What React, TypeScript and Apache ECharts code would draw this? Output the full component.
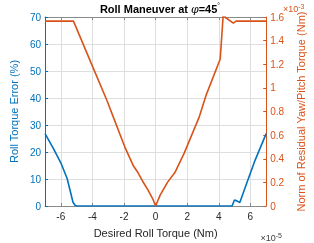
import React, { useEffect, useRef } from "react";
import * as echarts from "echarts";

const xTicks = [-6, -4, -2, 0, 2, 4, 6];
const blueX = [-7, -6.5, -6, -5.6, -5.23, -5.1, -5.0, 4.84, 4.99, 5.14, 5.33, 5.8, 6.3, 7];
const blueY = [26.8, 21.6, 16, 10.2, 1.4, 0.3, 0, 0, 2.2, 1.9, 1.3, 9.0, 17, 26.8];
const orangeX = [-7, -5.2, -4.02, -3.08, -2.67, -1.96, -1.4, -1.12, -0.84, -0.47, -0.19, 0, 0.28, 0.75, 1.22, 1.81, 2.75, 3.21, 4.09, 4.33, 4.4, 4.92, 5.1, 7];
const orangeY = [1.565, 1.565, 1.19, 0.893, 0.75, 0.503, 0.338, 0.283, 0.214, 0.132, 0.063, 0, 0.09, 0.2, 0.283, 0.448, 0.75, 0.943, 1.245, 1.72, 1.598, 1.548, 1.565, 1.565];

const BLUE = "#0072BD";
const ORANGE = "#D95319";
const AXIS = "#8a8a8a";
const GRID = "#dedede";
const FONT = "Liberation Sans";

export default function App() {
  const ref = useRef<HTMLDivElement>(null);
  useEffect(() => {
    if (!ref.current) return;
    const chart = echarts.init(ref.current, undefined, { renderer: "svg" });
    chart.setOption({
      animation: false,
      textStyle: { fontFamily: FONT },
      grid: { left: 30, right: 32, top: 17, bottom: 32, containLabel: false },
      graphic: [
        {
          type: "text",
          x: 160,
          y: 9,
          style: {
            text: "{b|Roll Maneuver at }{p|φ}{b|=45}{s|°}",
            align: "center",
            verticalAlign: "middle",
            rich: {
              b: { fontWeight: "bold", fontSize: 11, fontFamily: FONT, fill: "#000" },
              p: { fontStyle: "italic", fontSize: 11, fontFamily: "DejaVu Serif", fill: "#000" },
              s: { fontSize: 7, fontFamily: FONT, fill: "#000", verticalAlign: "top", lineHeight: 14 },
            },
          },
        },
        {
          type: "text",
          x: 283,
          y: 9,
          style: {
            text: "{a|×10}{s|-3}",
            align: "left",
            verticalAlign: "middle",
            rich: {
              a: { fontSize: 9, fontFamily: FONT, fill: ORANGE },
              s: { fontSize: 7, fontFamily: FONT, fill: ORANGE, verticalAlign: "top", lineHeight: 13 },
            },
          },
        },
        {
          type: "text",
          x: 282,
          y: 238,
          style: {
            text: "{a|×10}{s|-5}",
            align: "right",
            verticalAlign: "middle",
            rich: {
              a: { fontSize: 9, fontFamily: FONT, fill: "#404040" },
              s: { fontSize: 7, fontFamily: FONT, fill: "#404040", verticalAlign: "top", lineHeight: 13 },
            },
          },
        },
      ],
      xAxis: [
        {
          type: "value",
          min: -7,
          max: 7,
          position: "bottom",
          name: "Desired Roll Torque (Nm)",
          nameLocation: "middle",
          nameGap: 21,
          nameTextStyle: { fontSize: 11, color: "#262626", fontFamily: FONT },
          axisLine: { show: true, onZero: false, lineStyle: { color: AXIS, width: 1 } },
          axisTick: { show: true, inside: true, length: 3, customValues: xTicks, lineStyle: { color: AXIS } },
          axisLabel: { customValues: xTicks, fontSize: 10, color: "#262626", margin: 5, fontFamily: FONT },
          splitLine: { show: true, lineStyle: { color: GRID, width: 1 } },
        },
        {
          type: "value",
          min: -7,
          max: 7,
          position: "top",
          axisLine: { show: true, onZero: false, lineStyle: { color: AXIS, width: 1 } },
          axisTick: { show: true, inside: true, length: 3, customValues: xTicks, lineStyle: { color: AXIS } },
          axisLabel: { show: false },
          splitLine: { show: false },
        },
      ],
      yAxis: [
        {
          type: "value",
          min: 0,
          max: 70,
          interval: 10,
          position: "left",
          name: "Roll Torque Error (%)",
          nameLocation: "middle",
          nameGap: 25,
          nameTextStyle: { fontSize: 11, color: BLUE, fontFamily: FONT },
          axisLine: { show: true, onZero: false, lineStyle: { color: BLUE, width: 1 } },
          axisTick: { show: true, inside: true, length: 3, lineStyle: { color: BLUE } },
          axisLabel: { fontSize: 10, color: BLUE, margin: 4, fontFamily: FONT },
          splitLine: { show: true, lineStyle: { color: GRID, width: 1 } },
        },
        {
          type: "value",
          min: 0,
          max: 1.6,
          interval: 0.2,
          position: "right",
          name: "Norm of Residual Yaw/Pitch Torque (Nm)",
          nameLocation: "middle",
          nameGap: 25,
          nameTextStyle: { fontSize: 11, color: ORANGE, fontFamily: FONT },
          axisLine: { show: true, onZero: false, lineStyle: { color: ORANGE, width: 1 } },
          axisTick: { show: true, inside: true, length: 3, lineStyle: { color: ORANGE } },
          axisLabel: {
            fontSize: 10,
            color: ORANGE,
            margin: 4,
            fontFamily: FONT,
            formatter: (v: number) => String(Math.round(v * 10) / 10),
          },
          splitLine: { show: false },
        },
      ],
      series: [
        {
          type: "line",
          xAxisIndex: 0,
          yAxisIndex: 0,
          data: blueX.map((x, i) => [x, blueY[i]]),
          showSymbol: false,
          lineStyle: { color: BLUE, width: 1.6 },
          itemStyle: { color: BLUE },
          clip: true,
          z: 3,
        },
        {
          type: "line",
          xAxisIndex: 0,
          yAxisIndex: 1,
          data: orangeX.map((x, i) => [x, orangeY[i]]),
          showSymbol: false,
          lineStyle: { color: ORANGE, width: 1.6 },
          itemStyle: { color: ORANGE },
          clip: true,
          z: 3,
        },
      ],
    });
    return () => chart.dispose();
  }, []);
  return <div ref={ref} style={{ position: "fixed", left: 0, top: 0, width: 314, height: 243 }} />;
}
